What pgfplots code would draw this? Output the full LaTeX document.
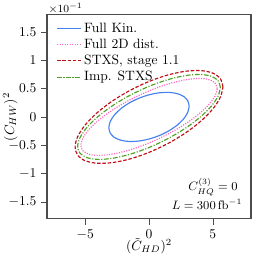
\documentclass[border=0pt]{standalone}
\usepackage{pgfplots}
\pgfplotsset{compat=1.18}
\definecolor{cblue}{RGB}{70,130,240}
\definecolor{cpink}{RGB}{255,100,190}
\definecolor{cred}{RGB}{190,15,25}
\definecolor{cgreen}{RGB}{80,160,40}
\begin{document}
\begin{tikzpicture}
\begin{axis}[
  scale only axis, width=150bp, height=150bp,
  clip mode=individual,
  xmin=-8, xmax=8, ymin=-1.8, ymax=1.8,
  xtick={-5,0,5}, ytick={-1.5,-1,-0.5,0,0.5,1,1.5},
  tick align=outside, tick pos=left,
  axis line style={black!70, line width=0.8pt},
  major tick style={black!70},
  xlabel={$(\tilde{C}_{HD})^2$}, ylabel={$(C_{HW})^2$},
  xlabel style={at={(axis description cs:0.5,-0.134)}, anchor=center},
  ylabel style={at={(axis description cs:-0.18,0.5)}, anchor=center},
  legend style={draw=none, fill=none, at={(0.025,0.99)}, anchor=north west, row sep=-0.5pt},
  legend cell align=left,
  legend image code/.code={\draw[#1, line width=0.85pt] (0cm,0cm) -- (0.62cm,0cm);},
  every axis plot/.append style={line width=0.85pt},
]
\addplot[color=cblue, smooth] coordinates {
(3.15,0.19) (3.043,0.284) (2.728,0.360) (2.227,0.410) (1.575,0.433) (0.815,0.426) (0,0.39) (-0.815,0.328) (-1.575,0.243) (-2.227,0.142) (-2.728,0.031) (-3.043,-0.083) (-3.15,-0.19) (-3.043,-0.284) (-2.728,-0.360) (-2.227,-0.410) (-1.575,-0.433) (-0.815,-0.426) (0,-0.39) (0.815,-0.328) (1.575,-0.243) (2.227,-0.142) (2.728,-0.031) (3.043,0.083) (3.15,0.19)};
\addlegendentry{Full Kin.}
\addplot[color=cpink, densely dotted, smooth] coordinates {
(5.35,0.5) (5.168,0.602) (4.633,0.663) (3.783,0.679) (2.675,0.648) (1.385,0.574) (0,0.46) (-1.385,0.315) (-2.675,0.148) (-3.783,-0.028) (-4.633,-0.203) (-5.168,-0.364) (-5.35,-0.5) (-5.168,-0.602) (-4.633,-0.663) (-3.783,-0.679) (-2.675,-0.648) (-1.385,-0.574) (0,-0.46) (1.385,-0.315) (2.675,-0.148) (3.783,0.028) (4.633,0.203) (5.168,0.364) (5.35,0.5)};
\addlegendentry{Full 2D dist.}
\addplot[color=cred, dash pattern=on 2.6pt off 1.3pt, smooth] coordinates {
(5.8,0.53) (5.602,0.674) (5.023,0.772) (4.101,0.817) (2.9,0.807) (1.501,0.742) (0,0.626) (-1.501,0.467) (-2.9,0.277) (-4.101,0.068) (-5.023,-0.146) (-5.602,-0.350) (-5.8,-0.53) (-5.602,-0.674) (-5.023,-0.772) (-4.101,-0.817) (-2.9,-0.807) (-1.501,-0.742) (0,-0.626) (1.501,-0.467) (2.9,-0.277) (4.101,-0.068) (5.023,0.146) (5.602,0.350) (5.8,0.53)};
\addlegendentry{STXS, stage 1.1}
\addplot[color=cgreen, dash pattern=on 3.5pt off 1.2pt on 0.8pt off 1.2pt, smooth] coordinates {
(5.6,0.52) (5.409,0.642) (4.850,0.720) (3.960,0.750) (2.8,0.728) (1.449,0.656) (0,0.54) (-1.449,0.387) (-2.8,0.208) (-3.960,0.014) (-4.850,-0.180) (-5.409,-0.363) (-5.6,-0.52) (-5.409,-0.642) (-4.850,-0.720) (-3.960,-0.750) (-2.8,-0.728) (-1.449,-0.656) (0,-0.54) (1.449,-0.387) (2.8,-0.208) (3.960,-0.014) (4.850,0.180) (5.409,0.363) (5.6,0.52)};
\addlegendentry{Imp. STXS}
\node[anchor=south west, inner sep=1pt, font=\footnotesize] at (rel axis cs:0,1) {$\times 10^{-1}$};
\node[anchor=east, inner sep=0pt, font=\small] at (rel axis cs:0.936,0.157) {$C^{(3)}_{HQ}=0$};
\node[anchor=east, inner sep=0pt, font=\small] at (rel axis cs:0.958,0.073) {$L=300\,\mathrm{fb}^{-1}$};
\end{axis}
\pgfresetboundingbox
\path[use as bounding box] ([xshift=-34.6bp,yshift=-31.6bp]current axis.south west) rectangle ([xshift=8.1bp,yshift=11bp]current axis.north east);
\end{tikzpicture}
\end{document}
